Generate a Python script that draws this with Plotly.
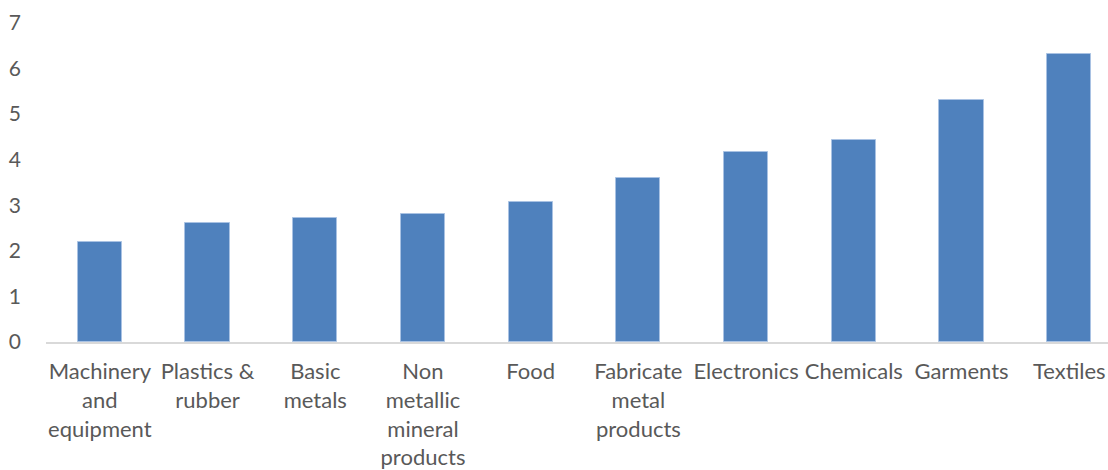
import plotly.graph_objects as go

categories = ["Machinery<br>and<br>equipment", "Plastics &<br>rubber", "Basic<br>metals",
              "Non<br>metallic<br>mineral<br>products", "Food", "Fabricate<br>metal<br>products",
              "Electronics", "Chemicals", "Garments", "Textiles"]
values = [2.19, 2.62, 2.73, 2.81, 3.08, 3.59, 4.18, 4.44, 5.32, 6.31]
y_ticks = [0, 1, 2, 3, 4, 5, 6, 7]

fig = go.Figure(go.Bar(
    x=list(range(len(categories))), y=values,
    width=0.41,
    marker=dict(color="#4f81bd", line=dict(color="#a9c2e3", width=1)),
))

font_family = "Lato, 'Open Sans', sans-serif"
fig.update_layout(
    width=1108, height=470,
    margin=dict(l=46, r=0, t=23, b=128),
    plot_bgcolor="white", paper_bgcolor="white",
    showlegend=False,
    font=dict(family=font_family, size=22, color="#595959"),
    bargap=0,
)
fig.update_xaxes(
    tickmode="array", tickvals=list(range(len(categories))), ticktext=categories,
    range=[-0.5, 9.36], showline=True, linecolor="#d9d9d9", linewidth=2,
    showgrid=False, zeroline=False, ticks="", ticklabelstandoff=9,
    tickfont=dict(family=font_family, size=22, color="#595959"),
)
fig.update_yaxes(
    range=[0, 7], tickvals=y_ticks, showgrid=False, zeroline=False, showline=False,
    ticks="", ticklabelstandoff=24,
    tickfont=dict(family=font_family, size=21, color="#595959"),
)
fig.write_html("out.html")
